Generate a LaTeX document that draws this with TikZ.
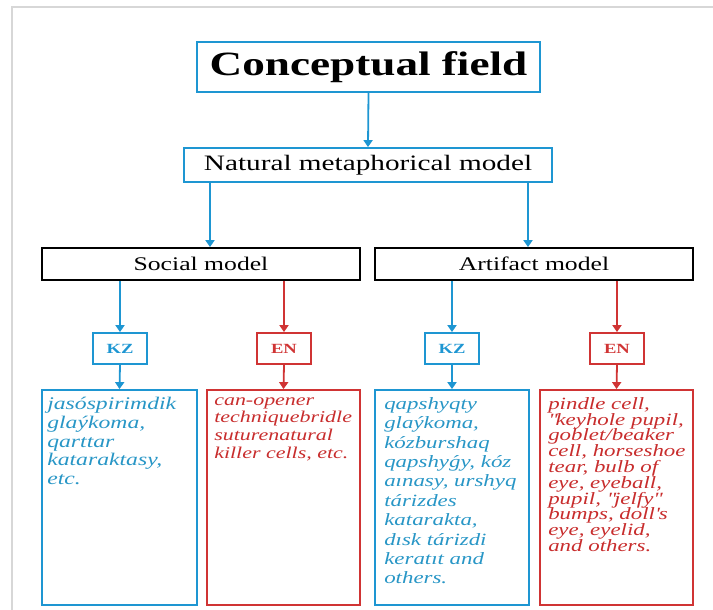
\documentclass[tikz,border=0pt]{standalone}
\usepackage{fontspec}
\setmainfont{Liberation Serif}[FakeStretch=1.33]
\usetikzlibrary{arrows.meta}
\definecolor{bl}{RGB}{30,150,210}
\definecolor{rd}{RGB}{208,52,52}
\definecolor{blt}{RGB}{40,150,198}
\definecolor{rdt}{RGB}{200,45,45}
\definecolor{fr}{RGB}{215,215,215}
\tikzset{
  box/.style={draw, line width=1.8pt, inner sep=0pt, minimum width=#1},
  arr/.style={line width=1.8pt, -{Triangle[width=9pt,length=7pt]}},
  tagbox/.style={draw, line width=1.8pt, minimum width=54pt, minimum height=31pt, inner sep=0pt, font=\fontsize{14}{16}\selectfont\bfseries},
  listbox/.style={draw, line width=1.8pt, minimum height=215pt, inner sep=0pt},
  listtxt/.style={anchor=north west, align=left, inner sep=0pt},
}
\begin{document}
\begin{tikzpicture}[x=1pt,y=-1pt]
\useasboundingbox (0,0) rectangle (713,610);
\draw[fr, line width=1.5pt] (12,610) -- (12,7) -- (713,7);
% top
\node[box=343pt, draw=bl, minimum height=50pt, font=\fontsize{34}{36}\selectfont\bfseries] (cf) at (368.5,67) {Conceptual field};
\node[box=368pt, draw=bl, minimum height=34pt, font=\fontsize{22}{26}\selectfont] (nmm) at (368,165) {Natural metaphorical model};
\draw[arr, bl] (cf.south) -- (nmm.north);
\node[box=318pt, draw=black, minimum height=32pt, font=\fontsize{19.3}{23}\selectfont] (soc) at (201,264) {Social model};
\node[box=318pt, draw=black, minimum height=32pt, font=\fontsize{19.3}{23}\selectfont] (art) at (534,264) {Artifact model};
\draw[arr, bl] ([xshift=9pt]soc.north |- nmm.south) -- ([xshift=9pt]soc.north);
\draw[arr, bl] ([xshift=-6pt]art.north |- nmm.south) -- ([xshift=-6pt]art.north);
% tags
\node[tagbox, draw=bl, text=bl] (kz1) at (120,348.5) {KZ};
\node[tagbox, draw=rd, text=rd] (en1) at (284,348.5) {EN};
\node[tagbox, draw=bl, text=bl] (kz2) at (452,348.5) {KZ};
\node[tagbox, draw=rd, text=rd] (en2) at (617,348.5) {EN};
\draw[arr, bl] (kz1.north |- soc.south) -- (kz1.north);
\draw[arr, rd] (en1.north |- soc.south) -- (en1.north);
\draw[arr, bl] (kz2.north |- art.south) -- (kz2.north);
\draw[arr, rd] (en2.north |- art.south) -- (en2.north);
% list boxes
\node[listbox, draw=bl, minimum width=155pt] (l1) at (119.5,497.5) {};
\node[listbox, draw=rd, minimum width=153pt] (l2) at (283.5,497.5) {};
\node[listbox, draw=bl, minimum width=154pt] (l3) at (452,497.5) {};
\node[listbox, draw=rd, minimum width=153pt] (l4) at (616.5,497.5) {};
\draw[arr, bl] (kz1.south) -- (l1.north);
\draw[arr, rd] (en1.south) -- (l2.north);
\draw[arr, bl] (kz2.south) -- (l3.north);
\draw[arr, rd] (en2.south) -- (l4.north);
\node[listtxt, text=blt, font=\fontsize{17.8}{18.7}\selectfont\itshape] (t1) at ([shift={(6pt,-8pt)}]l1.north west) {jasóspirimdik\\glaýkoma,\\qarttar\\kataraktasy,\\etc.};
\node[listtxt, text=rdt, font=\fontsize{16.5}{17.7}\selectfont\itshape] (t2) at ([shift={(8pt,-8pt)}]l2.north west) {can-opener\\techniquebridle\\suturenatural\\killer cells, etc.};
\node[listtxt, text=blt, font=\fontsize{17.2}{19.4}\selectfont\itshape] (t3) at ([shift={(10pt,-8pt)}]l3.north west) {qapshyqty\\glaýkoma,\\kózburshaq\\qapshyǵy, kóz\\aınasy, urshyq\\tárizdes\\katarakta,\\dısk tárizdi\\keratıt and\\others.};
\node[listtxt, text=rdt, text width=146pt, font=\fontsize{17.2}{15.8}\selectfont\itshape] (t4) at ([shift={(9pt,-8pt)}]l4.north west) {\lineskiplimit=-20pt\relax\lineskip=0pt\relax pindle cell,\\\textquotedbl keyhole pupil,\\goblet/beaker\\cell, horseshoe\\tear, bulb of\\eye, eyeball,\\pupil, \textquotedbl jelfy\textquotedbl\\bumps, doll\textquotesingle s\\eye, eyelid,\\and others.};
\end{tikzpicture}
\end{document}
